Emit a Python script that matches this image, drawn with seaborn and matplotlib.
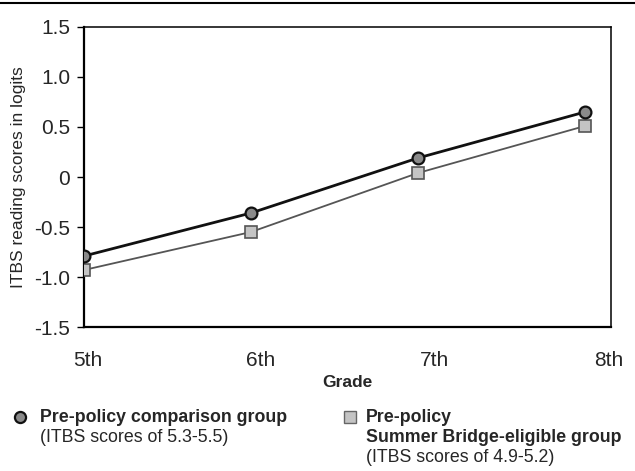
import matplotlib
matplotlib.use("Agg")
import matplotlib.pyplot as plt
from matplotlib.lines import Line2D
import seaborn as sns
import pandas as pd

# Mean ITBS reading scores (logits) by grade
grades = [5, 6, 7, 8]
grade_labels = ["5th", "6th", "7th", "8th"]
comparison = [-0.79, -0.36, 0.19, 0.65]
bridge_eligible = [-0.93, -0.55, 0.04, 0.51]
y_ticks = [-1.5, -1.0, -0.5, 0.0, 0.5, 1.0, 1.5]
y_tick_labels = ["-1.5", "-1.0", "-0.5", "0", "0.5", "1.0", "1.5"]

df = pd.DataFrame({
    "grade": grades * 2,
    "score": comparison + bridge_eligible,
    "group": ["comparison"] * 4 + ["eligible"] * 4,
})

sns.set_theme(style="white")
plt.rcParams["font.family"] = ["Liberation Sans", "DejaVu Sans"]

fig = plt.figure(figsize=(6.35, 4.71), dpi=100)
ax = fig.add_axes([0.1323, 0.3057, 0.8299, 0.637])

sns.lineplot(data=df[df.group == "eligible"], x="grade", y="score", ax=ax,
             color="#555555", lw=1.3, marker="s", markersize=8,
             markerfacecolor="#c4c4c4", markeredgecolor="#555555",
             markeredgewidth=1.2, zorder=3)
sns.lineplot(data=df[df.group == "comparison"], x="grade", y="score", ax=ax,
             color="#111111", lw=2.0, marker="o", markersize=8.5,
             markerfacecolor="#8a8a8a", markeredgecolor="#111111",
             markeredgewidth=1.6, zorder=4)

ax.set_xlim(5, 8.156)
ax.set_ylim(-1.5, 1.5)
ax.set_yticks(y_ticks)
ax.set_yticklabels(y_tick_labels, fontsize=15)
tick_pos = [5.02, 6.06, 7.10, 8.14]
ax.set_xticks(tick_pos)
ax.set_xticklabels(grade_labels, fontsize=15)
ax.tick_params(axis="y", length=5, width=1, color="black", pad=5, direction="out", left=True)
ax.tick_params(axis="x", length=0, pad=17)
ax.set_xlabel("Grade", fontsize=12.5, fontweight="bold", labelpad=4)
ax.set_ylabel("ITBS reading scores in logits", fontsize=12.5, labelpad=6)
for side, w in (("left", 1.6), ("bottom", 1.6), ("top", 1.1), ("right", 1.1)):
    ax.spines[side].set_visible(True)
    ax.spines[side].set_color("black")
    ax.spines[side].set_linewidth(w)

# rule across the top of the page
fig.add_artist(Line2D([0, 1], [1 - 3 / 471, 1 - 3 / 471], transform=fig.transFigure,
                      color="black", lw=1.5))

# legend block under the chart
def fy(py):
    return 1 - py / 471

fig.add_artist(Line2D([20 / 635], [fy(417)], transform=fig.transFigure, marker="o",
                      markersize=8, markerfacecolor="#8a8a8a", markeredgecolor="#111111",
                      markeredgewidth=1.6, linestyle="none"))
fig.add_artist(Line2D([350 / 635], [fy(417)], transform=fig.transFigure, marker="s",
                      markersize=8, markerfacecolor="#c4c4c4", markeredgecolor="#666666",
                      markeredgewidth=1.0, linestyle="none"))

fs = 12.8
fig.text(40 / 635, fy(417), "Pre-policy comparison group", fontsize=fs,
         fontweight="bold", va="center", ha="left")
fig.text(40 / 635, fy(437), "(ITBS scores of 5.3-5.5)", fontsize=fs,
         va="center", ha="left")
fig.text(366 / 635, fy(417), "Pre-policy", fontsize=fs, fontweight="bold",
         va="center", ha="left")
fig.text(366 / 635, fy(437), "Summer Bridge-eligible group", fontsize=fs,
         fontweight="bold", va="center", ha="left")
fig.text(366 / 635, fy(457), "(ITBS scores of 4.9-5.2)", fontsize=fs,
         va="center", ha="left")

fig.savefig("out.png", dpi=100)
